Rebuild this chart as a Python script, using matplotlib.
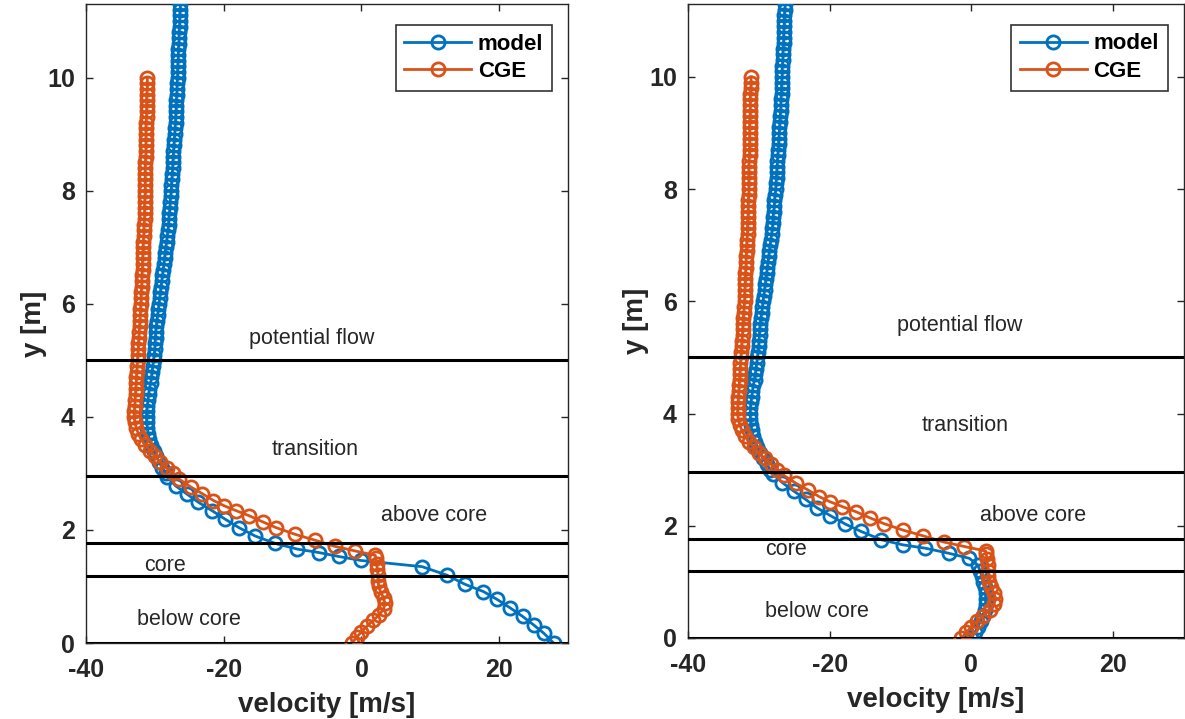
import matplotlib.pyplot as plt

plt.rcParams['font.family'] = ['Liberation Sans', 'DejaVu Sans']
plt.rcParams['axes.unicode_minus'] = False

# colours used by MATLAB
BLUE = '#0072BD'
ORANGE = '#D95319'
TXT = '#262626'

# model profile above the core (shared by both panels)
model_top_y = [11.4, 11.3, 11.2, 11.1, 11.0, 10.9, 10.8, 10.7, 10.6, 10.5,
               10.4, 10.3, 10.2, 10.1, 10.0, 9.9, 9.8, 9.7, 9.6, 9.5,
               9.4, 9.3, 9.2, 9.1, 9.0, 8.9, 8.8, 8.7, 8.6, 8.5,
               8.4, 8.3, 8.2, 8.1, 8.0, 7.9, 7.8, 7.7, 7.6, 7.5,
               7.4, 7.3, 7.2, 7.1, 7.0, 6.9, 6.8, 6.7, 6.6, 6.5,
               6.4, 6.3, 6.2, 6.1, 6.0, 5.9, 5.8, 5.7, 5.6, 5.5,
               5.4, 5.3, 5.2, 5.1, 5.0, 4.9, 4.8, 4.7, 4.6, 4.5,
               4.4, 4.3, 4.2, 4.1, 4.0, 3.9, 3.8, 3.7, 3.6, 3.5,
               3.4, 3.3, 3.2, 3.1, 3.0]
model_top_v = [-26.3, -26.3, -26.3, -26.4, -26.4, -26.4, -26.5, -26.5, -26.5, -26.6,
               -26.6, -26.6, -26.7, -26.7, -26.7, -26.8, -26.8, -26.8, -26.9, -26.9,
               -26.9, -27.0, -27.0, -27.1, -27.1, -27.2, -27.2, -27.3, -27.3, -27.4,
               -27.4, -27.5, -27.5, -27.6, -27.6, -27.7, -27.8, -27.8, -27.9, -28.0,
               -28.0, -28.1, -28.2, -28.3, -28.4, -28.5, -28.6, -28.7, -28.8, -28.9,
               -29.0, -29.1, -29.2, -29.3, -29.4, -29.5, -29.6, -29.7, -29.8, -29.9,
               -29.9, -30.0, -30.0, -30.1, -30.2, -30.3, -30.4, -30.5, -30.6, -30.8,
               -30.9, -31.0, -31.1, -31.2, -31.2, -31.2, -31.1, -31.0, -30.8, -30.5,
               -30.2, -29.8, -29.4, -28.9, -28.4]

# model profile near and below the core, left panel
model_left_y = [2.93, 2.78, 2.63, 2.49, 2.34, 2.19, 2.04, 1.89, 1.76, 1.66,
                1.60, 1.53, 1.46, 1.35, 1.20, 1.04, 0.91, 0.77, 0.62, 0.47,
                0.31, 0.17, 0.0]
model_left_v = [-28.2, -27.0, -25.3, -23.7, -21.7, -19.8, -17.8, -15.4, -12.5, -9.3,
                -6.2, -3.3, -0.1, 8.8, 12.4, 15.0, 17.7, 19.7, 21.6, 23.4,
                25.1, 26.5, 27.9]

# model profile near and below the core, right panel
model_right_y = [2.92, 2.77, 2.62, 2.47, 2.32, 2.18, 2.03, 1.90, 1.75, 1.66,
                 1.60, 1.51, 1.42, 1.3, 1.2, 1.1, 1.0, 0.9, 0.8, 0.7,
                 0.6, 0.5, 0.4, 0.3, 0.2, 0.1, 0.0]
model_right_v = [-28.0, -26.7, -25.1, -23.4, -21.8, -19.9, -17.8, -15.6, -12.7, -9.7,
                 -6.5, -3.2, -0.3, 0.9, 1.2, 1.5, 1.7, 1.9, 2.0, 2.0,
                 2.0, 1.9, 1.6, 1.3, 0.9, 0.5, 0.0]

# CGE profile (same in both panels)
cge_y = [10.0, 9.9, 9.8, 9.7, 9.6, 9.5, 9.4, 9.3, 9.2, 9.1,
         9.0, 8.9, 8.8, 8.7, 8.6, 8.5, 8.4, 8.3, 8.2, 8.1,
         8.0, 7.9, 7.8, 7.7, 7.6, 7.5, 7.4, 7.3, 7.2, 7.1,
         7.0, 6.9, 6.8, 6.7, 6.6, 6.5, 6.4, 6.3, 6.2, 6.1,
         6.0, 5.9, 5.8, 5.7, 5.6, 5.5, 5.4, 5.3, 5.2, 5.1,
         5.0, 4.9, 4.8, 4.7, 4.6, 4.5, 4.4, 4.3, 4.2, 4.1,
         4.0, 3.9, 3.8, 3.7, 3.6, 3.5, 3.4, 3.3, 3.2, 3.1,
         3.0, 2.90, 2.76, 2.64, 2.52, 2.43, 2.34, 2.25, 2.14, 2.04,
         1.92, 1.82, 1.71, 1.63, 1.55, 1.5, 1.4, 1.3, 1.2, 1.1,
         1.0, 0.9, 0.8, 0.7, 0.6, 0.5, 0.4, 0.3, 0.2, 0.1, 0.0]
cge_v = [-31.1, -31.1, -31.1, -31.2, -31.2, -31.2, -31.2, -31.2, -31.3, -31.3,
         -31.3, -31.3, -31.3, -31.3, -31.3, -31.4, -31.4, -31.4, -31.4, -31.4,
         -31.4, -31.4, -31.5, -31.5, -31.5, -31.5, -31.6, -31.6, -31.6, -31.7,
         -31.7, -31.7, -31.8, -31.8, -31.8, -31.9, -31.9, -31.9, -32.0, -32.0,
         -32.0, -32.1, -32.1, -32.2, -32.2, -32.3, -32.3, -32.4, -32.4, -32.5,
         -32.5, -32.6, -32.6, -32.7, -32.7, -32.8, -32.8, -32.9, -32.9, -33.0,
         -33.0, -32.9, -32.7, -32.4, -32.0, -31.4, -30.7, -30.0, -29.2, -28.3,
         -27.4, -26.5, -24.8, -23.1, -21.5, -20.0, -18.2, -16.3, -14.3, -12.4,
         -9.6, -6.8, -3.9, -1.0, 2.0, 2.1, 2.2, 2.3, 2.4, 2.4,
         2.5, 2.8, 3.2, 3.4, 3.2, 2.6, 1.7, 0.8, 0.0, -0.7, -1.4]

# region boundaries and labels
bounds = [5.0, 2.95, 1.77, 1.19, 0.0]
region_names = ['potential flow', 'transition', 'above core', 'core', 'below core']
left_label_pos = [(-7.2, 5.39), (-6.8, 3.42), (10.6, 2.25), (-28.5, 1.37), (-25.1, 0.41)]
right_label_pos = [(-1.6, 5.57), (-0.9, 3.79), (8.7, 2.18), (-26.2, 1.57), (-21.8, 0.48)]

fig = plt.figure(figsize=(11.85, 7.19), dpi=100)
ax1 = fig.add_axes([0.0726, 0.1057, 0.4068, 0.8887])
ax2 = fig.add_axes([0.5806, 0.1127, 0.4185, 0.8818])

panels = [(ax1, model_left_y, model_left_v, left_label_pos),
          (ax2, model_right_y, model_right_v, right_label_pos)]

for ax, low_y, low_v, label_pos in panels:
    ax.plot(model_top_v + low_v, model_top_y + low_y, '-o', color=BLUE, lw=2.0,
            ms=9.5, mfc='none', mew=2.0, label='model', zorder=3)
    ax.plot(cge_v, cge_y, '-o', color=ORANGE, lw=2.0,
            ms=9.5, mfc='none', mew=2.0, label='CGE', zorder=4)
    for b in bounds:
        ax.axhline(b, color='black', lw=2.2, zorder=5)
    for name, (tx, ty) in zip(region_names, label_pos):
        ax.text(tx, ty, name, ha='center', va='center', fontsize=15.5, color=TXT)

    ax.set_xlim(-40, 30)
    ax.set_ylim(0, 11.3)
    ax.set_xticks([-40, -20, 0, 20])
    ax.set_yticks([0, 2, 4, 6, 8, 10])
    ax.tick_params(direction='in', length=5, width=1, top=True, right=True,
                   labelsize=18, colors=TXT, pad=8)
    ax.tick_params(axis='x', pad=11)
    for lab in ax.get_xticklabels() + ax.get_yticklabels():
        lab.set_fontweight('bold')
    for sp in ax.spines.values():
        sp.set_linewidth(1.0)
        sp.set_color(TXT)
    ax.set_xlabel('velocity [m/s]', fontsize=20, fontweight='bold', color=TXT, labelpad=7)
    ax.set_ylabel('y [m]', fontsize=20, fontweight='bold', color=TXT, labelpad=0)

    leg = ax.legend(loc='upper right', prop={'weight': 'bold', 'size': 16},
                    frameon=True, fancybox=False, edgecolor='black',
                    handlelength=3.0, borderpad=0.4, labelspacing=0.3,
                    handletextpad=0.3, bbox_to_anchor=(0.99, 0.985))
    leg.get_frame().set_linewidth(1.2)

fig.savefig('out.png', dpi=100)
